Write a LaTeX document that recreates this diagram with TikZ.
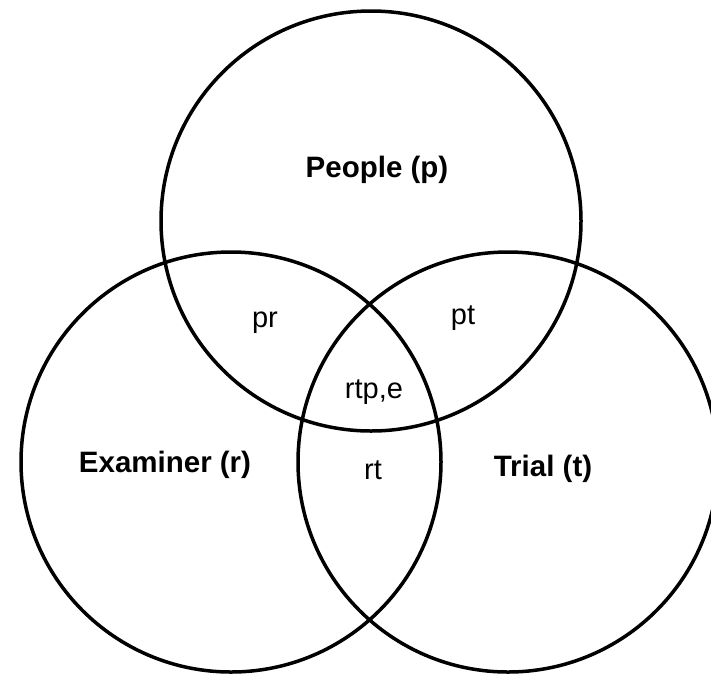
\documentclass[tikz,border=0pt]{standalone}
\usepackage{fontspec}
\setmainfont{Liberation Sans}
\usetikzlibrary{positioning}
\tikzset{set/.style={draw,circle,line width=3.5pt,minimum size=420pt,inner sep=0pt}}
\tikzset{setlbl/.style={font=\fontsize{29.5}{34}\selectfont\bfseries}}
\tikzset{partlbl/.style={font=\fontsize{29}{34}\selectfont}}

\begin{document}
\begin{tikzpicture}[x=1pt,y=-1pt]
\useasboundingbox (0,0) rectangle (711,673);

\node[set] (P) at (371,221) {};
\node[set] (R) at (231,462) {};
\node[set] (T) at (508,462) {};

\node[setlbl] (Plbl) at (377,170) {People (p)};
\node[setlbl] (Rlbl) at (165,465) {Examiner (r)};
\node[setlbl] (Tlbl) at (543,469) {Trial (t)};

\node[partlbl] (pr) at (265,323) {pr};
\node[partlbl] (pt) at (463,318) {pt};
\node[partlbl] (rtp) at (374,392) {rtp,e};
\node[partlbl] (rt) at (373,470) {rt};
\end{tikzpicture}
\end{document}
